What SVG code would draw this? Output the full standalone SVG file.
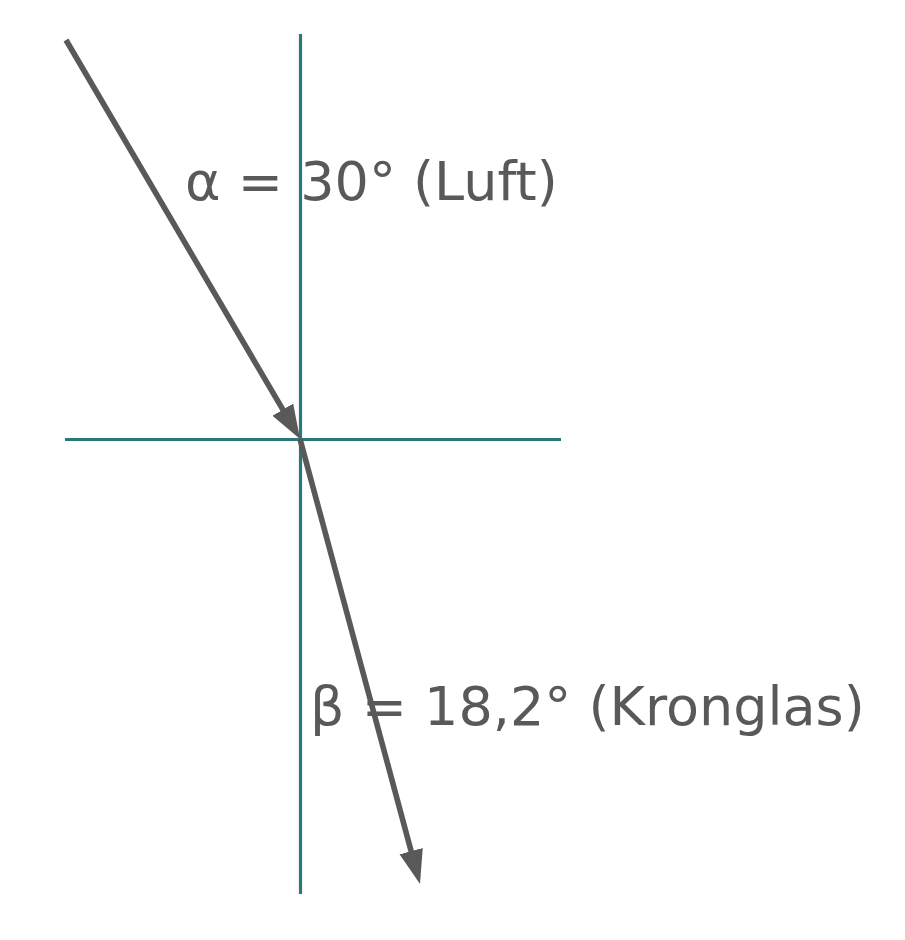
<svg xmlns="http://www.w3.org/2000/svg" width="905" height="940" viewBox="0 0 905 940">
<style>
.axis{stroke:#2a777c;stroke-width:3.2;fill:none}
.ray{stroke:#595959;stroke-width:5.6;fill:none;marker-end:url(#arrow)}
.lbl{font-family:"DejaVu Sans",sans-serif;font-size:54px;fill:#595959}
</style>
<defs>
<marker id="arrow" markerUnits="userSpaceOnUse" markerWidth="40" markerHeight="30" viewBox="0 -15 40 30" refX="14" refY="0" orient="auto">
<path d="M0,-12 L34,0 L0,12 z" fill="#595959"/>
</marker>
</defs>
<rect width="905" height="940" fill="#ffffff"/>
<g id="axes">
<line class="axis" x1="300.5" y1="34" x2="300.5" y2="894"/>
<line class="axis" x1="65" y1="439.5" x2="561" y2="439.5"/>
</g>
<g id="connectors">
<line class="ray" x1="66" y1="40" x2="289.9" y2="421.7"/>
<line class="ray" x1="300" y1="439" x2="414.8" y2="864.7"/>
</g>
<g id="label-alpha"><text class="lbl" x="185" y="200">α = 30° (Luft)</text></g>
<g id="label-beta"><text class="lbl" x="310" y="725">β = 18,2° (Kronglas)</text></g>
</svg>
